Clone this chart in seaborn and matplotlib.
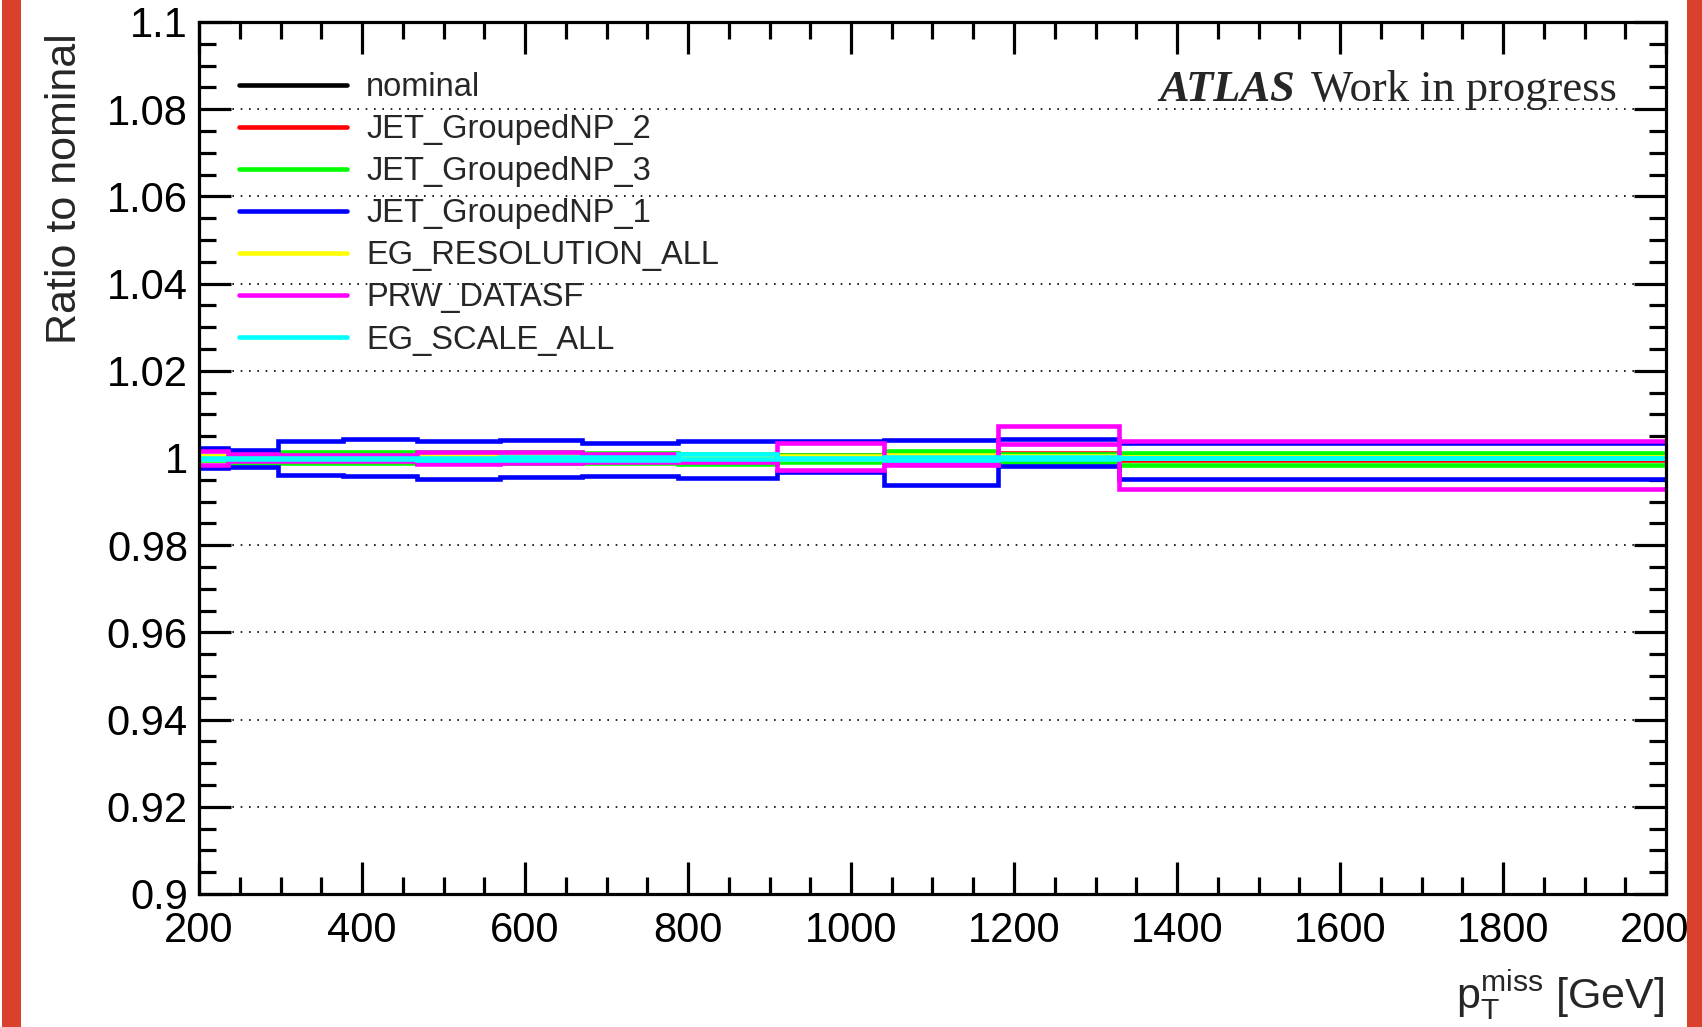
import numpy as np
import pandas as pd
import matplotlib
matplotlib.use("Agg")
import matplotlib.pyplot as plt
from matplotlib.lines import Line2D
from matplotlib.patches import Rectangle
from matplotlib.ticker import MultipleLocator, FuncFormatter
import seaborn as sns

# ---------------- data ----------------
bin_edges = [200, 236, 297, 377, 468, 569, 670, 788, 909, 1040, 1180, 1329, 2000]

nominal = [1.0] * 12
jet2_up = [1.0003, 1.0004, 1.0004, 1.0005, 1.0005, 1.0005, 1.0006, 1.0006, 1.0008, 1.0013, 1.0012, 1.0001]
jet2_dn = [0.9997, 0.9997, 0.9997, 0.9996, 0.9996, 0.9996, 0.9995, 0.9995, 0.9995, 0.9993, 0.9992, 0.9995]
jet3_up = [1.0004, 1.0014, 1.0014, 1.0014, 1.0014, 1.0014, 1.0012, 1.0010, 1.0006, 1.0015, 1.0010, 1.0012]
jet3_dn = [0.9996, 0.9988, 0.9988, 0.9988, 0.9988, 0.9988, 0.9988, 0.9986, 0.9991, 0.9990, 0.9991, 0.9985]
jet1_up = [1.0024, 1.0019, 1.0038, 1.0043, 1.0040, 1.0041, 1.0035, 1.0039, 1.0039, 1.0041, 1.0043, 1.0034]
jet1_dn = [0.9978, 0.9980, 0.9961, 0.9958, 0.9952, 0.9957, 0.9958, 0.9954, 0.9968, 0.9937, 0.9981, 0.9952]
egres_up = [1.0004, 1.0003, 1.0003, 1.0003, 1.0004, 1.0004, 1.0005, 1.0008, 1.0005, 1.0008, 1.0004, 1.0002]
egres_dn = [0.9998, 0.9999, 0.9999, 0.9999, 0.9999, 0.9999, 0.9998, 0.9998, 0.9998, 0.9998, 0.9999, 0.9999]
prw_up = [1.0016, 1.0009, 1.0007, 1.0007, 1.0014, 1.0014, 1.0009, 0.9991, 1.0035, 0.9985, 1.0073, 1.0039]
prw_dn = [0.9983, 0.9992, 0.9993, 0.9993, 0.9987, 0.9988, 0.9991, 0.9994, 0.9972, 0.9987, 1.0032, 0.9930]
egscale_up = [1.0001, 1.0001, 1.0001, 1.0001, 1.0001, 1.0002, 1.0003, 1.0010, 1.0001, 1.0002, 1.0002, 1.0001]
egscale_dn = [0.9997, 0.9997, 0.9997, 0.9997, 0.9996, 0.9996, 0.9996, 0.9997, 0.9997, 0.9996, 0.9998, 0.9999]

series_names = ["nominal", "JET_GroupedNP_2", "JET_GroupedNP_3", "JET_GroupedNP_1",
                "EG_RESOLUTION_ALL", "PRW_DATASF", "EG_SCALE_ALL"]
series_values = {
    "nominal": [nominal],
    "JET_GroupedNP_2": [jet2_up, jet2_dn],
    "JET_GroupedNP_3": [jet3_up, jet3_dn],
    "JET_GroupedNP_1": [jet1_up, jet1_dn],
    "EG_RESOLUTION_ALL": [egres_up, egres_dn],
    "PRW_DATASF": [prw_up, prw_dn],
    "EG_SCALE_ALL": [egscale_up, egscale_dn],
}
series_colors = ["#000000", "#FF0000", "#00FF00", "#0000FF", "#FFFF00", "#FF00FF", "#00FFFF"]

# ---------------- style ----------------
sns.set_theme(style="ticks")
plt.rcParams["font.family"] = ["Liberation Sans", "DejaVu Sans"]
plt.rcParams["mathtext.fontset"] = "custom"
plt.rcParams["mathtext.rm"] = "Liberation Sans"
plt.rcParams["mathtext.default"] = "regular"

W, H = 1702, 1027
fig = plt.figure(figsize=(W / 100, H / 100), dpi=100, facecolor="white")
ax = fig.add_axes([199 / W, 1 - 894 / H, (1666 - 199) / W, (894 - 22) / H])
ax.set_facecolor("white")

rows = []
for name in series_names:
    for k, vals in enumerate(series_values[name]):
        yy = list(vals) + [vals[-1]]
        for xv, yv in zip(bin_edges, yy):
            rows.append({"series": name, "var": k, "x": xv, "y": yv})
df = pd.DataFrame(rows)

lw = 3.3
for i, (name, col) in enumerate(zip(series_names, series_colors)):
    sub = df[df["series"] == name]
    sns.lineplot(data=sub, x="x", y="y", units="var", estimator=None, sort=False,
                 color=col, lw=lw, drawstyle="steps-post", legend=False, ax=ax,
                 zorder=3 + i * 0.1, solid_joinstyle="miter")

ax.set_xlim(200, 2000)
ax.set_ylim(0.9, 1.1)
ax.set_xlabel("")
ax.set_ylabel("")

ax.xaxis.set_major_locator(MultipleLocator(200))
ax.xaxis.set_minor_locator(MultipleLocator(50))
ax.yaxis.set_major_locator(MultipleLocator(0.02))
ax.yaxis.set_minor_locator(MultipleLocator(0.005))
ax.yaxis.set_major_formatter(FuncFormatter(lambda v, p: f"{round(v, 3):g}"))
ax.xaxis.set_major_formatter(FuncFormatter(lambda v, p: f"{int(round(v))}"))

ax.tick_params(which="both", direction="in", top=True, right=True, width=2.3, color="black",
               labelsize=30, labelcolor="black")
ax.tick_params(which="major", length=23)
ax.tick_params(which="minor", length=12)
ax.tick_params(axis="x", which="major", pad=12)
ax.tick_params(axis="y", which="major", pad=8)
for s in ax.spines.values():
    s.set_linewidth(2.3)
    s.set_color("black")
    s.set_zorder(10)

ax.yaxis.grid(True, which="major", color="black", lw=1.2, linestyle=(0, (1, 4)))
ax.xaxis.grid(False)
ax.set_axisbelow(False)

# legend
handles = [Line2D([], [], color=c, lw=lw) for c in series_colors]
leg = ax.legend(handles, series_names, loc="upper left",
                bbox_to_anchor=(239 / W, 1 - 72 / H), bbox_transform=fig.transFigure,
                frameon=False, fontsize=23.5, handlelength=3.3, handletextpad=0.6,
                labelspacing=0.34, borderpad=0, borderaxespad=0)
leg.set_zorder(4)

# texts
fig.text(1159 / W, 1 - 101 / H, "ATLAS", family="Liberation Serif", weight="bold",
         style="italic", size=32, ha="left", va="baseline")
fig.text(1617 / W, 1 - 101 / H, "Work in progress", family="Liberation Serif",
         size=32, ha="right", va="baseline")
fig.text(65 / W, 1 - 33 / H, "Ratio to nominal", rotation=90, ha="center", va="top", size=31)
fig.text(1664 / W, 1 - 1008 / H, r"$p_{T}^{miss}$ [GeV]", ha="right", va="baseline", size=31)

# slide border strips
red = "#D9412D"
fig.patches.append(Rectangle((2 / W, 0), 19 / W, 1, transform=fig.transFigure,
                             facecolor=red, edgecolor="none", zorder=50))
fig.patches.append(Rectangle((1687 / W, 0), 15 / W, 1, transform=fig.transFigure,
                             facecolor=red, edgecolor="none", zorder=50))

fig.savefig("out.png", dpi=100, facecolor="white")
